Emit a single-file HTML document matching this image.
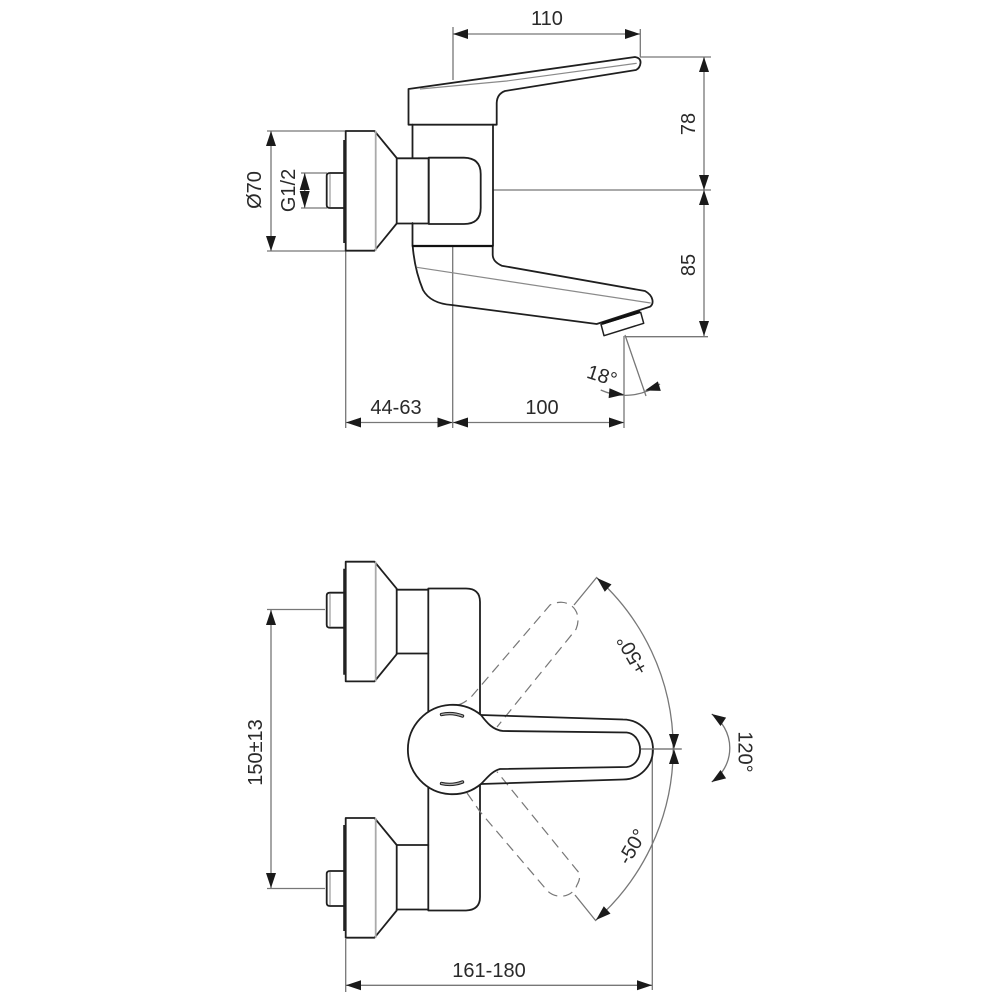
<!DOCTYPE html>
<html><head><meta charset="utf-8"><style>
html,body{margin:0;padding:0;background:#fff}
svg{display:block}
text{font-family:"Liberation Sans",sans-serif;font-size:20px;fill:#2a2a2a;text-anchor:middle}
.o{fill:none;stroke:#1f1f1f;stroke-width:1.8;stroke-linejoin:round;stroke-linecap:round}
.d{fill:none;stroke:#777;stroke-width:1.3}
.g{fill:none;stroke:#8a8a8a;stroke-width:1.2}
.a{fill:#1a1a1a;stroke:none}
.h{fill:none;stroke:#777;stroke-width:1.2;stroke-dasharray:10 6}
</style></head><body>
<svg width="1000" height="1000" viewBox="0 0 1000 1000" xmlns="http://www.w3.org/2000/svg">
<rect width="1000" height="1000" fill="#fff"/>

<!-- dimension lines: top view -->
<path class="d" d="M453,27V80M453,34H640M640.3,29V57M640,57H711M704,57V336M493,190H711M625,336.7H708
M267,131H345M267,251H345M271,131V251M301,173H327M301,208H327M304.7,173V208
M345.7,251V428M452.7,246V428M346,422.5H624M624,336V428M625,335L646,396M600.7,390A59,59 0 0 0 660,384"/>

<!-- top view: spout -->
<path class="o" d="M412.7,246C414,262 418,278 423,290C428,299 438,304 451.7,305L596.7,324L650,306.7C654,304 654,296 645,291L501.7,265.7C496,263 493,260 492.7,255V246"/>
<path class="g" d="M416.7,267.3L650.7,303"/>
<path d="M601,324.3L640.7,312.3L643.7,323.3L604,335.7Z" fill="#fff" stroke="#1f1f1f" stroke-width="1.5" stroke-linejoin="round"/>
<path d="M602,323.5L640,311.5" stroke="#111" stroke-width="2.8" fill="none"/>

<!-- top view: body -->
<path class="o" d="M412.5,124.7V158M412.5,223V246M493,124.7V246"/>
<path d="M412,246H493" stroke="#111" stroke-width="2.2" fill="none"/>
<path class="o" d="M408.5,124.7V89L635,57Q641,58 640.5,63Q640,68 636,70L505,91Q497,94 496.7,103V124.7Z"/>
<path class="g" d="M420,89L506.7,81L636.7,63.3"/>
<path class="o" d="M397,158.3H428.7V223.5H397"/>
<path class="o" d="M428.7,157.7H464Q480.7,158 480.7,174V208Q480.7,224 464,224H428.7Z"/>

<!-- flanges -->
<g transform="translate(0,131)">
<path class="o" d="M345.7,0H374.5L396.7,27V92.5L374.5,119.7H345.7Z"/>
<path d="M375.7,0V119.7" stroke="#aaa" stroke-width="1.8" fill="none"/>
<path d="M344.5,9V112" stroke="#222" stroke-width="2.6" fill="none"/>
<path class="o" d="M344,42H330Q326.7,42 326.7,45V74Q326.7,77 330,77H344"/>
<path d="M330,43V76" stroke="#999" stroke-width="1.2" fill="none"/>
</g>
<g transform="translate(0,561.7)">
<path class="o" d="M345.7,0H374.5L396.7,27V92.5L374.5,119.7H345.7Z"/>
<path d="M375.7,0V119.7" stroke="#aaa" stroke-width="1.8" fill="none"/>
<path d="M344.5,7V113" stroke="#222" stroke-width="2.6" fill="none"/>
<path class="o" d="M344,31H330Q326.7,31 326.7,34V63Q326.7,66 330,66H344"/>
<path d="M330,32V65" stroke="#999" stroke-width="1.2" fill="none"/>
</g>
<g transform="translate(0,818)">
<path class="o" d="M345.7,0H374.5L396.7,27V92.5L374.5,119.7H345.7Z"/>
<path d="M375.7,0V119.7" stroke="#aaa" stroke-width="1.8" fill="none"/>
<path d="M344.5,7V113" stroke="#222" stroke-width="2.6" fill="none"/>
<path class="o" d="M344,53H330Q326.7,53 326.7,56V85Q326.7,88 330,88H344"/>
<path d="M330,54V87" stroke="#999" stroke-width="1.2" fill="none"/>
</g>

<!-- bottom view dims -->
<path class="d" d="M267,609.5H325M267,888.5H325M271,610V888M345.7,939V992M346,985.3H652M652.3,749V990M640.7,749H681.7
M597,578A229,229 0 0 1 596,920M574,605L597,577M575,895L596,921M711.7,714A41,41 0 0 1 711.7,782"/>

<!-- bottom view body -->
<path class="o" d="M396.7,589.7H428.3M396.7,653.5H428.3M396.7,845H428.3M396.7,909.5H428.3"/>
<path class="o" d="M428.3,713V588.5H466Q480,588.5 480,602V716M428.3,785V910.5H466Q480,910 480,897V783"/>

<!-- ghost handles -->
<path class="h" d="M458,705Q465,703 472,696L550,605Q556,602 562,602.3C574,603 582,615 576,629.3L497,727"/>
<path class="h" d="M467,793Q472,800 480,811.7L546.7,890C554,899 572,899 577,885C581,878 580,873 576.7,870L497,771.7"/>

<!-- handle -->
<path class="o" d="M481,715L623,719.5A29.7,29.7 0 0 1 623,779.5L481,784"/>
<path d="M481,715C487,723 493,730 503,731L626.7,732.5A14.5,17.3 0 0 1 626.7,767L500,769C492,771 487,778 481,784A44.7,44.7 0 1 1 481,715Z" fill="#fff" stroke="#1f1f1f" stroke-width="1.8" stroke-linejoin="round"/>
<path d="M441.5,714.5Q452,712 462.5,716" stroke="#222" stroke-width="3.4" fill="none" stroke-linecap="round"/>
<path d="M441.5,714.5Q452,712 462.5,716" stroke="#aaa" stroke-width="1.4" fill="none" stroke-linecap="round"/>
<path d="M441.5,783.5Q452,786 462.5,782" stroke="#222" stroke-width="3.4" fill="none" stroke-linecap="round"/>
<path d="M441.5,783.5Q452,786 462.5,782" stroke="#aaa" stroke-width="1.4" fill="none" stroke-linecap="round"/>
<path class="d" d="M640.7,749H681.7"/>

<!-- arrowheads -->
<g class="a">
<polygon points="0,0 -15,-5 -15,5" transform="translate(453,34) rotate(180)"/>
<polygon points="0,0 -15,-5 -15,5" transform="translate(640,34)"/>
<polygon points="0,0 -15,-5 -15,5" transform="translate(704,57) rotate(-90)"/>
<polygon points="0,0 -15,-5 -15,5" transform="translate(704,190) rotate(90)"/>
<polygon points="0,0 -15,-5 -15,5" transform="translate(704,190) rotate(-90)"/>
<polygon points="0,0 -15,-5 -15,5" transform="translate(704,336) rotate(90)"/>
<polygon points="0,0 -15,-5 -15,5" transform="translate(271,131) rotate(-90)"/>
<polygon points="0,0 -15,-5 -15,5" transform="translate(271,251) rotate(90)"/>
<polygon points="0,0 -17,-5 -17,5" transform="translate(304.7,173) rotate(-90)"/>
<polygon points="0,0 -17,-5 -17,5" transform="translate(304.7,208) rotate(90)"/>
<polygon points="0,0 -15,-5 -15,5" transform="translate(346,422.5) rotate(180)"/>
<polygon points="0,0 -15,-5 -15,5" transform="translate(452.5,422.5)"/>
<polygon points="0,0 -15,-5 -15,5" transform="translate(453,422.5) rotate(180)"/>
<polygon points="0,0 -15,-5 -15,5" transform="translate(624,422.5)"/>
<polygon points="0,0 -15,-5 -15,5" transform="translate(624,394.5) rotate(5)"/>
<polygon points="0,0 -15,-5 -15,5" transform="translate(645,390.5) rotate(163)"/>
<polygon points="0,0 -15,-5 -15,5" transform="translate(271,610) rotate(-90)"/>
<polygon points="0,0 -15,-5 -15,5" transform="translate(271,888) rotate(90)"/>
<polygon points="0,0 -15,-5 -15,5" transform="translate(346,985.3) rotate(180)"/>
<polygon points="0,0 -15,-5 -15,5" transform="translate(652,985.3)"/>
<polygon points="0,0 -15,-5 -15,5" transform="translate(674,749) rotate(90)"/>
<polygon points="0,0 -15,-5 -15,5" transform="translate(674,749) rotate(-90)"/>
<polygon points="0,0 -15,-5 -15,5" transform="translate(597,578) rotate(-138)"/>
<polygon points="0,0 -15,-5 -15,5" transform="translate(596,920) rotate(138)"/>
<polygon points="0,0 -14,-5 -14,5" transform="translate(711.7,714) rotate(-146)"/>
<polygon points="0,0 -14,-5 -14,5" transform="translate(711.7,782) rotate(146)"/>
</g>

<!-- labels -->
<text x="547" y="25">110</text>
<text transform="translate(695,124) rotate(-90)">78</text>
<text transform="translate(695,265) rotate(-90)">85</text>
<text transform="translate(261,190) rotate(-90)">Ø70</text>
<text transform="translate(295,190.5) rotate(-90)">G1/2</text>
<text x="396" y="414">44-63</text>
<text x="542" y="414">100</text>
<text transform="translate(600,382) rotate(18)">18°</text>
<text transform="translate(262,752.5) rotate(-90)">150±13</text>
<text x="489" y="977">161-180</text>
<text transform="translate(638,651.5) rotate(-120)">+50°</text>
<text transform="translate(638,850) rotate(-60)">-50°</text>
<text transform="translate(738.5,752) rotate(90)">120°</text>
</svg>
</body></html>
